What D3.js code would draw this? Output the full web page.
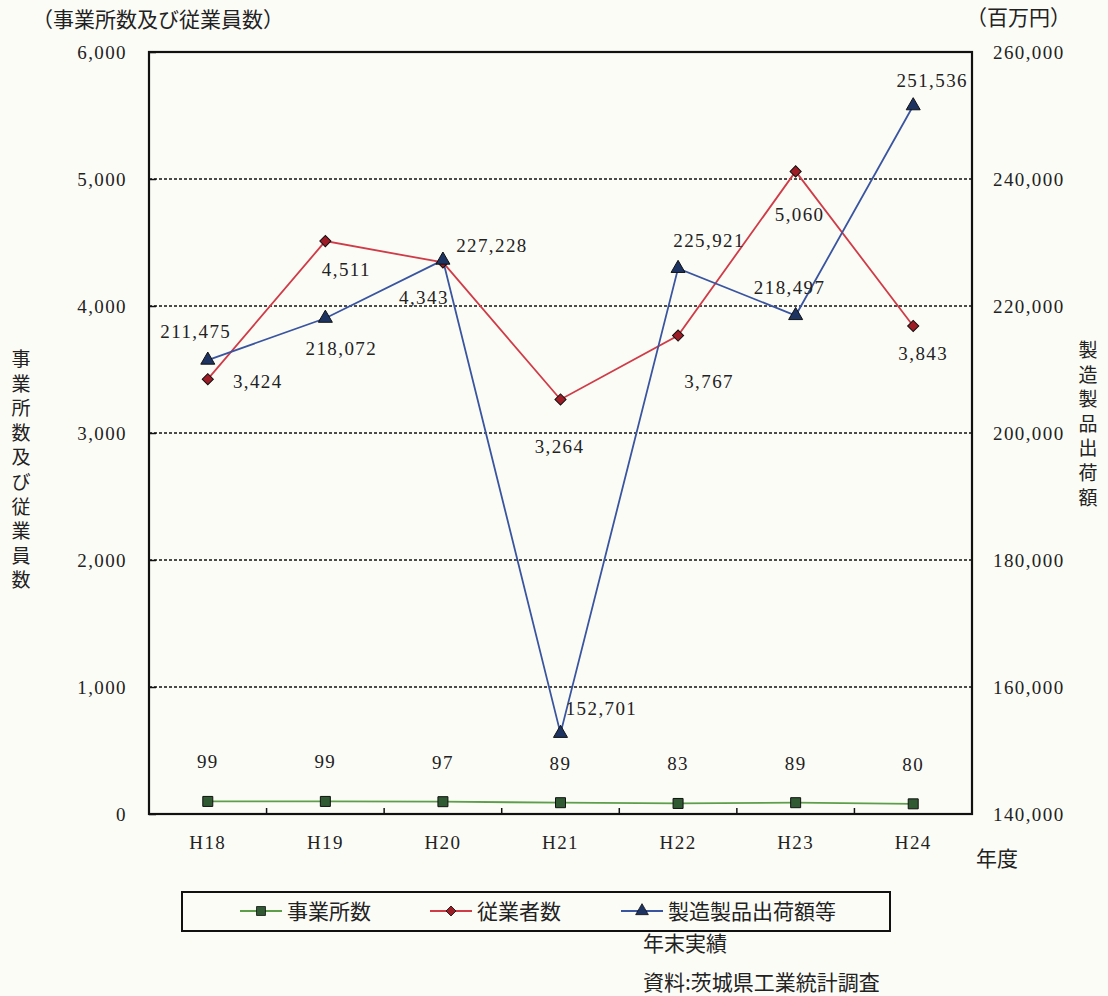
<!DOCTYPE html>
<html>
<head>
<meta charset="utf-8">
<script src="https://cdn.jsdelivr.net/npm/d3@7"></script>
<style>
  body { margin: 0; background: #fcfcf7; }
  svg { display: block; }
  .num { font-family: "Liberation Serif", "DejaVu Serif", serif; font-size: 19px; letter-spacing: 1.4px; fill: #222; }
  .jp { font-family: "Noto Sans CJK JP", sans-serif; font-size: 21px; fill: #222; }
  .jpv { font-family: "Noto Sans CJK JP", sans-serif; font-size: 19px; fill: #222; }
</style>
</head>
<body>
<script>
// categories and series
var years = ['H18', 'H19', 'H20', 'H21', 'H22', 'H23', 'H24'];
var offices = [99, 99, 97, 89, 83, 89, 80];
var workers = [3424, 4511, 4343, 3264, 3767, 5060, 3843];
var shipments = [211475, 218072, 227228, 152701, 225921, 218497, 251536];

// tick values
var leftTicks = [0, 1000, 2000, 3000, 4000, 5000, 6000];
var rightTicks = [140000, 160000, 180000, 200000, 220000, 240000, 260000];

var legendNames = ['事業所数', '従業者数', '製造製品出荷額等'];

// label offsets from the point (dx, baseline dy)
var workerLabelPos = [[50, 9], [21, 35], [-19, 42], [-1, 54], [31, 52], [4, 50], [10, 34]];
var shipLabelPos = [[-12, -22], [16, 37], [49, -8], [41, -18], [31, -21], [-6, -22], [19, -19]];

var W = 1108, H = 996;
var margin = { left: 149, right: 972, top: 52, bottom: 814 };

var svg = d3.select('body').append('svg')
    .attr('width', W)
    .attr('height', H);

var x = d3.scaleBand().domain(years).range([margin.left, margin.right]);
var yL = d3.scaleLinear().domain([0, 6000]).range([margin.bottom, margin.top]);
var yR = d3.scaleLinear().domain([140000, 260000]).range([margin.bottom, margin.top]);
var cx = function (d, i) { return x(years[i]) + x.bandwidth() / 2; };
var fmt = d3.format(',');

// dotted grid lines
svg.append('g').selectAll('line')
    .data(leftTicks.filter(function (t) { return t > 0 && t < 6000; }))
    .enter().append('line')
    .attr('x1', margin.left).attr('x2', margin.right)
    .attr('y1', function (d) { return yL(d); })
    .attr('y2', function (d) { return yL(d); })
    .attr('stroke', '#111')
    .attr('stroke-width', 1.6)
    .attr('stroke-dasharray', '3,2');

// axes
var axL = svg.append('g')
    .attr('transform', 'translate(' + margin.left + ',0)')
    .call(d3.axisLeft(yL).tickValues(leftTicks).tickSize(-7).tickPadding(22).tickFormat(fmt));
var axR = svg.append('g')
    .attr('transform', 'translate(' + margin.right + ',0)')
    .call(d3.axisRight(yR).tickValues(rightTicks).tickSize(0).tickPadding(21).tickFormat(fmt));
var axB = svg.append('g')
    .attr('transform', 'translate(0,' + margin.bottom + ')')
    .call(d3.axisBottom(x).tickSize(0).tickPadding(22));

[axL, axR, axB].forEach(function (ax) {
    ax.select('.domain').remove();
    ax.selectAll('text').attr('class', 'num').attr('dy', '0.36em');
    ax.selectAll('line').attr('stroke', '#111').attr('stroke-width', 1.5);
});
axB.selectAll('text').attr('dy', '0.71em');

// category boundary ticks on the bottom axis
svg.append('g').selectAll('line')
    .data(years.slice(1))
    .enter().append('line')
    .attr('x1', function (d) { return x(d); })
    .attr('x2', function (d) { return x(d); })
    .attr('y1', margin.bottom).attr('y2', margin.bottom - 6)
    .attr('stroke', '#111').attr('stroke-width', 1.5);

// plot frame
svg.append('rect')
    .attr('x', margin.left).attr('y', margin.top)
    .attr('width', margin.right - margin.left)
    .attr('height', margin.bottom - margin.top)
    .attr('fill', 'none')
    .attr('stroke', '#111')
    .attr('stroke-width', 2.2);

// lines
function drawLine(values, scale, color) {
    svg.append('path')
        .datum(values)
        .attr('fill', 'none')
        .attr('stroke', color)
        .attr('stroke-width', 1.8)
        .attr('d', d3.line().x(cx).y(function (d) { return scale(d); }));
}
drawLine(offices, yL, '#5c9e4a');
drawLine(workers, yL, '#cf3c48');
drawLine(shipments, yR, '#3a55a0');

// markers
var sym = {
    square: d3.symbol().type(d3.symbolSquare).size(100),
    diamond: d3.symbol().type(d3.symbolSquare).size(62),
    triangle: d3.symbol().type(d3.symbolTriangle).size(85)
};
function drawMarks(values, scale, path, fill, rot) {
    svg.append('g').selectAll('path')
        .data(values)
        .enter().append('path')
        .attr('transform', function (d, i) {
            return 'translate(' + cx(d, i) + ',' + scale(d) + ') rotate(' + rot + ')';
        })
        .attr('d', path)
        .attr('fill', fill)
        .attr('stroke', '#111')
        .attr('stroke-width', 1);
}
drawMarks(offices, yL, sym.square(), '#2f5a32', 0);
drawMarks(workers, yL, sym.diamond(), '#9e1c26', 45);
drawMarks(shipments, yR, sym.triangle(), '#1d3362', 0);

// value labels
svg.append('g').selectAll('text')
    .data(offices)
    .enter().append('text')
    .attr('class', 'num')
    .attr('text-anchor', 'middle')
    .attr('x', cx)
    .attr('y', function (d) { return yL(d) - 33; })
    .text(fmt);

svg.append('g').selectAll('text')
    .data(workers)
    .enter().append('text')
    .attr('class', 'num')
    .attr('text-anchor', 'middle')
    .attr('x', function (d, i) { return cx(d, i) + workerLabelPos[i][0]; })
    .attr('y', function (d, i) { return yL(d) + workerLabelPos[i][1]; })
    .text(fmt);

svg.append('g').selectAll('text')
    .data(shipments)
    .enter().append('text')
    .attr('class', 'num')
    .attr('text-anchor', 'middle')
    .attr('x', function (d, i) { return cx(d, i) + shipLabelPos[i][0]; })
    .attr('y', function (d, i) { return yR(d) + shipLabelPos[i][1]; })
    .text(fmt);

// axis titles
svg.append('text').attr('class', 'jp').attr('x', 32).attr('y', 27).text('（事業所数及び従業員数）');
svg.append('text').attr('class', 'jp').attr('x', 966).attr('y', 25).text('（百万円）');
svg.append('text').attr('class', 'jp').attr('x', 976).attr('y', 866).text('年度');

// stacked one-character-per-line titles
function vertical(txt, x0, y0) {
    txt.split('').forEach(function (ch, i) {
        svg.append('text')
            .attr('class', 'jpv')
            .attr('text-anchor', 'middle')
            .attr('x', x0)
            .attr('y', y0 + i * 24.6)
            .text(ch);
    });
}
vertical('事業所数及び従業員数', 21, 366);
vertical('製造製品出荷額', 1088, 357);

// legend
var legend = svg.append('g');
legend.append('rect')
    .attr('x', 182).attr('y', 892)
    .attr('width', 708).attr('height', 39)
    .attr('fill', 'none')
    .attr('stroke', '#111')
    .attr('stroke-width', 2);

var legendItems = [
    { x: 240, color: '#2f5a32', line: '#5c9e4a', path: sym.square.size(80)(), rot: 0 },
    { x: 430, color: '#9e1c26', line: '#cf3c48', path: sym.diamond.size(50)(), rot: 45 },
    { x: 621, color: '#1d3362', line: '#3a55a0', path: sym.triangle.size(70)(), rot: 0 }
];
legendItems.forEach(function (it, i) {
    legend.append('line')
        .attr('x1', it.x).attr('x2', it.x + 42)
        .attr('y1', 911).attr('y2', 911)
        .attr('stroke', it.line).attr('stroke-width', 1.8);
    legend.append('path')
        .attr('transform', 'translate(' + (it.x + 21) + ',911) rotate(' + it.rot + ')')
        .attr('d', it.path)
        .attr('fill', it.color)
        .attr('stroke', '#111').attr('stroke-width', 0.8);
    legend.append('text')
        .attr('class', 'jp')
        .attr('x', it.x + 47).attr('y', 919)
        .text(legendNames[i]);
});

// notes
svg.append('text').attr('class', 'jp').attr('x', 643).attr('y', 951).text('年末実績');
svg.append('text').attr('class', 'jp').attr('x', 643).attr('y', 990).text('資料:茨城県工業統計調査');
</script>
</body>
</html>
